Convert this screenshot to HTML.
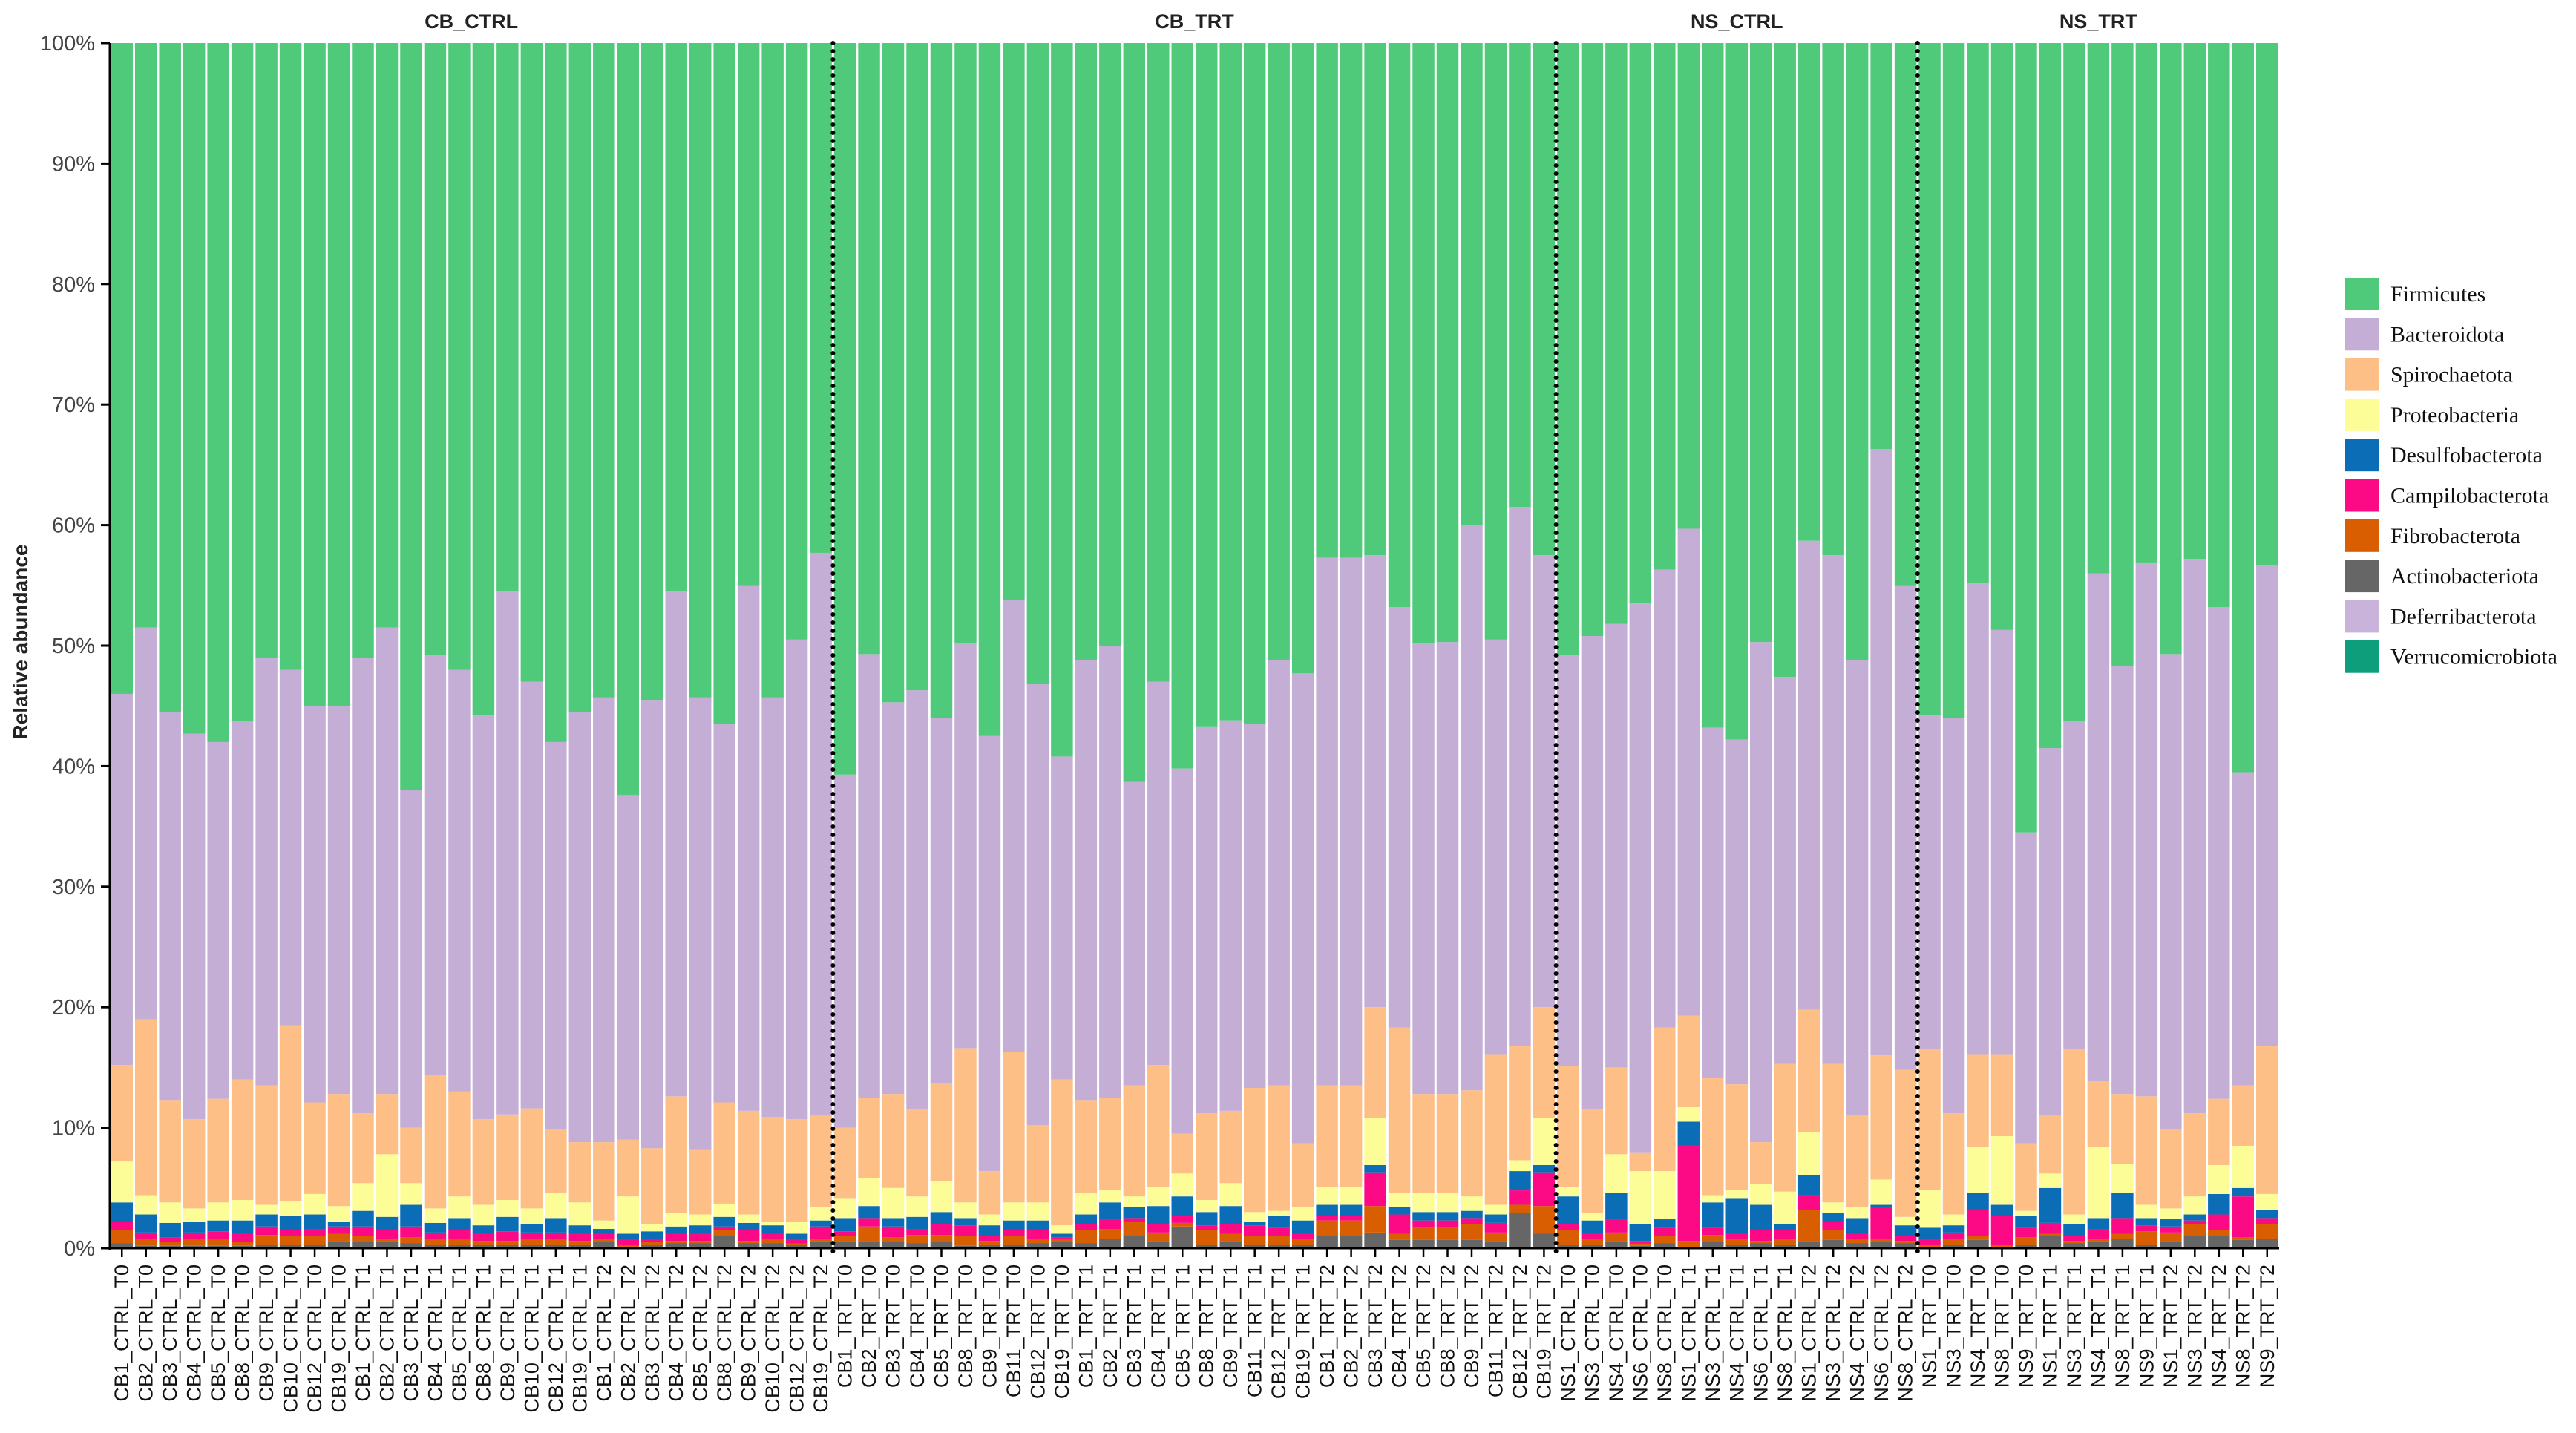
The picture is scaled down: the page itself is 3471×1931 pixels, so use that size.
<!DOCTYPE html>
<html><head><meta charset="utf-8"><style>
html,body{margin:0;padding:0;background:#fff;}
svg{display:block;}
text{font-family:"Liberation Sans",sans-serif;}
text.serif{font-family:"Liberation Serif",serif;}
</style></head><body>
<svg id="chart" width="3471" height="1931" viewBox="0 0 3471 1931" xmlns="http://www.w3.org/2000/svg">
<g id="bars"></g>
<g id="axes"></g>
<g id="legend"></g>
</svg>
<script>
const groups = ["CB_CTRL","CB_TRT","NS_CTRL","NS_TRT"];
const categories = [
"CB1_CTRL_T0","CB2_CTRL_T0","CB3_CTRL_T0","CB4_CTRL_T0","CB5_CTRL_T0","CB8_CTRL_T0","CB9_CTRL_T0","CB10_CTRL_T0","CB12_CTRL_T0","CB19_CTRL_T0",
"CB1_CTRL_T1","CB2_CTRL_T1","CB3_CTRL_T1","CB4_CTRL_T1","CB5_CTRL_T1","CB8_CTRL_T1","CB9_CTRL_T1","CB10_CTRL_T1","CB12_CTRL_T1","CB19_CTRL_T1",
"CB1_CTRL_T2","CB2_CTRL_T2","CB3_CTRL_T2","CB4_CTRL_T2","CB5_CTRL_T2","CB8_CTRL_T2","CB9_CTRL_T2","CB10_CTRL_T2","CB12_CTRL_T2","CB19_CTRL_T2",
"CB1_TRT_T0","CB2_TRT_T0","CB3_TRT_T0","CB4_TRT_T0","CB5_TRT_T0","CB8_TRT_T0","CB9_TRT_T0","CB11_TRT_T0","CB12_TRT_T0","CB19_TRT_T0",
"CB1_TRT_T1","CB2_TRT_T1","CB3_TRT_T1","CB4_TRT_T1","CB5_TRT_T1","CB8_TRT_T1","CB9_TRT_T1","CB11_TRT_T1","CB12_TRT_T1","CB19_TRT_T1",
"CB1_TRT_T2","CB2_TRT_T2","CB3_TRT_T2","CB4_TRT_T2","CB5_TRT_T2","CB8_TRT_T2","CB9_TRT_T2","CB11_TRT_T2","CB12_TRT_T2","CB19_TRT_T2",
"NS1_CTRL_T0","NS3_CTRL_T0","NS4_CTRL_T0","NS6_CTRL_T0","NS8_CTRL_T0",
"NS1_CTRL_T1","NS3_CTRL_T1","NS4_CTRL_T1","NS6_CTRL_T1","NS8_CTRL_T1",
"NS1_CTRL_T2","NS3_CTRL_T2","NS4_CTRL_T2","NS6_CTRL_T2","NS8_CTRL_T2",
"NS1_TRT_T0","NS3_TRT_T0","NS4_TRT_T0","NS8_TRT_T0","NS9_TRT_T0",
"NS1_TRT_T1","NS3_TRT_T1","NS4_TRT_T1","NS8_TRT_T1","NS9_TRT_T1",
"NS1_TRT_T2","NS3_TRT_T2","NS4_TRT_T2","NS8_TRT_T2","NS9_TRT_T2"];
const groupSizes = [30,30,15,15];
const phyla = ["Firmicutes","Bacteroidota","Spirochaetota","Proteobacteria","Desulfobacterota","Campilobacterota","Fibrobacterota","Actinobacteriota","Deferribacterota","Verrucomicrobiota"];
const phylaColors = ["#4fc97a","#c4aed6","#fdbf86","#fdfd97","#0a6db5","#fc0a86","#d95e02","#666666","#c9b3da","#0e9e7c"];
const actinobacteriota = [.4,.2,.2,.2,.2,.2,.3,.3,.3,.6,.5,.6,.4,.3,.3,.3,.3,.3,.3,.3,.5,.1,.3,.4,.4,1.1,.4,.4,.3,.6,
.6,.6,.5,.4,.5,.2,.3,.3,.4,.5,.4,.8,1.1,.6,1.8,.3,.6,.3,.3,.3,1.0,1.0,1.3,.7,.7,.7,.7,.6,2.9,1.2,
.3,.3,.6,.2,.4,.1,.5,.3,.4,.3,.6,.7,.4,.5,.4,.1,.3,.7,.1,.3,1.1,.4,.6,.8,.3,.6,1.1,1.0,.7,.8];
const fibrobacterota = [1.1,.6,.3,.5,.5,.3,.8,.7,.7,.6,.5,.2,.5,.4,.4,.3,.3,.4,.4,.3,.3,.1,.2,.2,.2,.4,.2,.3,.1,.2,
.4,1.2,.4,.7,.6,.8,.3,.7,.3,.2,1.1,.8,1.1,.7,.3,1.2,.6,.7,.7,.5,1.3,1.3,2.2,.5,1.0,1.0,1.3,.7,.7,2.3,
1.2,.5,.7,.2,.6,.5,.6,.5,.2,.5,2.6,.8,.3,.2,.2,.1,.5,.3,.1,.6,.1,.2,.2,.4,1.1,.7,.9,.5,.2,1.2];
const campilobacterota = [.7,.5,.4,.6,.7,.7,.7,.5,.6,.6,.8,.7,.9,.6,.8,.6,.8,.6,.6,.6,.4,.6,.3,.6,.6,.3,.9,.5,.4,1.0,
.4,.7,.9,.5,.9,.9,.4,.5,.8,.2,.5,.8,.3,.7,.6,.4,.8,.9,.7,.4,.4,.4,2.8,1.6,.6,.6,.5,.8,1.2,2.8,
.5,.4,1.1,.2,.7,7.9,.6,.4,.9,.7,1.2,.7,.5,2.7,.4,.6,.5,2.2,2.5,.8,.9,.4,.8,1.3,.5,.5,.3,1.3,3.4,.5];
const desulfobacterota = [1.6,1.5,1.2,.9,.9,1.1,1.0,1.2,1.2,.4,1.3,1.1,1.8,.8,1.0,.7,1.2,.7,1.2,.7,.4,.4,.6,.6,.7,.8,.6,.7,.4,.5,
1.1,1.0,.7,1.0,1.0,.6,.9,.8,.8,.3,.8,1.4,.9,1.5,1.6,1.1,1.5,.3,1.0,1.1,.9,.9,.6,.6,.7,.7,.6,.7,1.6,.6,
2.3,1.1,2.2,1.4,.7,2.0,2.1,2.9,2.1,.5,1.7,.7,1.3,.2,.9,.9,.6,1.4,.9,1.0,2.9,1.0,.9,2.1,.6,.6,.5,1.7,.7,.7];
const proteobacteria = [3.4,1.6,1.7,1.1,1.5,1.7,.8,1.2,1.7,1.3,2.3,5.2,1.8,1.2,1.8,1.7,1.4,1.3,2.1,1.9,.7,3.1,.6,1.1,.9,1.1,.7,.3,1.0,1.1,
1.6,2.3,2.5,1.7,2.6,1.3,.9,1.5,1.5,.7,1.8,1.0,.9,1.6,1.9,1.0,1.9,.8,.4,1.1,1.5,1.5,3.9,1.2,1.6,1.6,1.2,.8,.9,3.9,
.8,.6,3.2,4.4,4.0,1.2,.6,.7,1.7,2.7,3.5,.9,.9,2.1,.7,3.1,.9,3.8,5.7,.4,1.2,.8,5.9,2.4,1.1,.9,1.5,2.4,3.5,1.3];
const spirochaetota = [8.0,14.6,8.5,7.4,8.6,10.0,9.9,14.6,7.6,9.3,5.8,5.0,4.6,11.1,8.7,7.1,7.1,8.3,5.3,5.0,6.5,4.7,6.3,9.7,5.4,8.4,8.6,8.7,8.5,7.6,
5.9,6.7,7.8,7.2,8.1,12.8,3.6,12.5,6.4,12.1,7.7,7.7,9.2,10.1,3.3,7.2,6.0,10.3,10.4,5.3,8.4,8.4,9.2,13.7,8.2,8.2,8.8,12.5,9.5,9.2,
10.0,8.6,7.2,1.5,11.9,7.6,9.7,8.8,3.5,10.6,10.2,11.5,7.6,10.3,12.2,11.7,8.4,7.7,6.8,5.6,4.8,13.7,5.5,5.8,9.0,6.6,6.9,5.5,5.0,12.3];
const bacteroidota = [30.8,32.5,32.2,32.0,29.6,29.7,35.5,29.5,32.9,32.2,37.8,38.7,28.0,34.8,35.0,33.5,43.4,35.4,32.1,35.7,36.9,28.6,37.2,41.9,37.5,31.4,43.6,34.8,39.8,46.7,
29.3,36.8,32.5,34.8,30.3,33.6,36.1,37.5,36.6,26.8,36.5,37.5,25.2,31.8,30.3,32.1,32.4,30.2,35.3,39.0,43.8,43.8,37.5,34.9,37.4,37.5,46.9,34.4,44.7,37.5,
34.1,39.3,36.8,45.6,38.0,40.4,29.1,28.6,41.5,32.1,38.9,42.2,37.8,50.3,40.2,27.7,32.8,39.1,35.2,25.8,30.5,27.2,42.1,35.5,44.3,39.4,46.0,40.8,26.0,39.9];
const firmicutes = [54,48.5,55.5,57.3,58,56.3,51,52,55,55,51,48.5,62,50.8,52,55.8,45.5,53,58,55.5,54.3,62.4,54.5,45.5,54.3,56.5,45,54.3,49.5,42.3,
60.7,50.7,54.7,53.7,56,49.8,57.5,46.2,53.2,59.2,51.2,50,61.3,53,60.2,56.7,56.2,56.5,51.2,52.3,42.7,42.7,42.5,46.8,49.8,49.7,40,49.5,38.5,42.5,
50.8,49.2,48.2,46.5,43.7,40.3,56.8,57.8,49.7,52.6,41.3,42.5,51.2,33.7,45,55.8,56,44.8,48.7,65.5,58.5,56.3,44,51.7,43.1,50.7,42.8,46.8,60.5,43.3];
const yTicks = [0,10,20,30,40,50,60,70,80,90,100];

const NS = "http://www.w3.org/2000/svg";
const X0 = 148, X1 = 3071, Y0 = 1682, Y1 = 58;
const n = categories.length;
const pitch = (X1 - X0) / n;
const xAt = i => X0 + i * pitch;
const yAt = v => Y0 - (v / 100) * (Y0 - Y1);
function mk(tag, attrs, parent){ const e=document.createElementNS(NS,tag); for(const k in attrs) e.setAttribute(k,attrs[k]); parent.appendChild(e); return e; }
const barsG = document.getElementById('bars');
const axesG = document.getElementById('axes');
const legG = document.getElementById('legend');
const stackSeries = [actinobacteriota,fibrobacterota,campilobacterota,desulfobacterota,proteobacteria,spirochaetota,bacteroidota,firmicutes];
const stackIdx = [7,6,5,4,3,2,1,0];
for(let i=0;i<n;i++){
  let total=0; stackSeries.forEach(s=>total+=s[i]);
  let cum=0;
  const g = mk('g',{},barsG);
  
  
  stackSeries.forEach((s,k)=>{
    const v = s[i]/total*100;
    const yTop = yAt(cum+v), yBot = yAt(cum);
    const r = mk('rect',{x:xAt(i)+1.5,y:yTop,width:pitch-3,height:Math.max(0,yBot-yTop),fill:phylaColors[stackIdx[k]]},g);
    
    
    cum+=v;
  });
}
const yl = mk('line',{x1:X0,y1:Y1,x2:X0,y2:Y0+2,stroke:'#000','stroke-width':3},axesG);


yTicks.forEach(t=>{
  const y=yAt(t);
  mk('line',{x1:X0-12,y1:y,x2:X0,y2:y,stroke:'#000','stroke-width':3},axesG);
  const tx=mk('text',{x:X0-20,y:y+10,'text-anchor':'end','font-size':29,fill:'#444'},axesG);
  tx.textContent=t+'%';
  
  
});
const xl = mk('line',{x1:X0,y1:Y0,x2:X1,y2:Y0,stroke:'#000','stroke-width':3},axesG);


const yt = mk('text',{x:0,y:0,'text-anchor':'middle','font-size':28,'font-weight':'bold',fill:'#222',transform:'translate(37,865) rotate(-90)'},axesG);
yt.textContent='Relative abundance';


for(let i=0;i<n;i++){
  const cx = xAt(i)+pitch/2;
  mk('line',{x1:cx,y1:Y0,x2:cx,y2:Y0+12,stroke:'#000','stroke-width':2.5},axesG);
  const t = mk('text',{x:0,y:0,'text-anchor':'end','font-size':27,fill:'#111',transform:'translate('+(cx+9)+','+(Y0+22)+') rotate(-90)'},axesG);
  t.textContent=categories[i];
  
  
}
let start=0;
groupSizes.forEach((sz,gi)=>{
  const cx = xAt(start+sz/2);
  const t = mk('text',{x:cx,y:38,'text-anchor':'middle','font-size':27,'font-weight':'bold',fill:'#222'},axesG);
  t.textContent=groups[gi];
  
  
  if(gi>0){
    const x=xAt(start);
    const d = mk('line',{x1:x,y1:Y1,x2:x,y2:Y0+10,stroke:'#000','stroke-width':6,'stroke-dasharray':'0 11','stroke-linecap':'round'},axesG);
    
    
  }
  start+=sz;
});
phyla.forEach((p,k)=>{
  const y = 374 + k*54.3;
  const r = mk('rect',{x:3160,y:y,width:46,height:44,fill:phylaColors[k]},legG);
  
  
  const t = mk('text',{x:3221,y:y+32,'font-size':30,fill:'#111','class':'serif'},legG);
  t.textContent=p;
  
  
});
</script>
</body></html>
